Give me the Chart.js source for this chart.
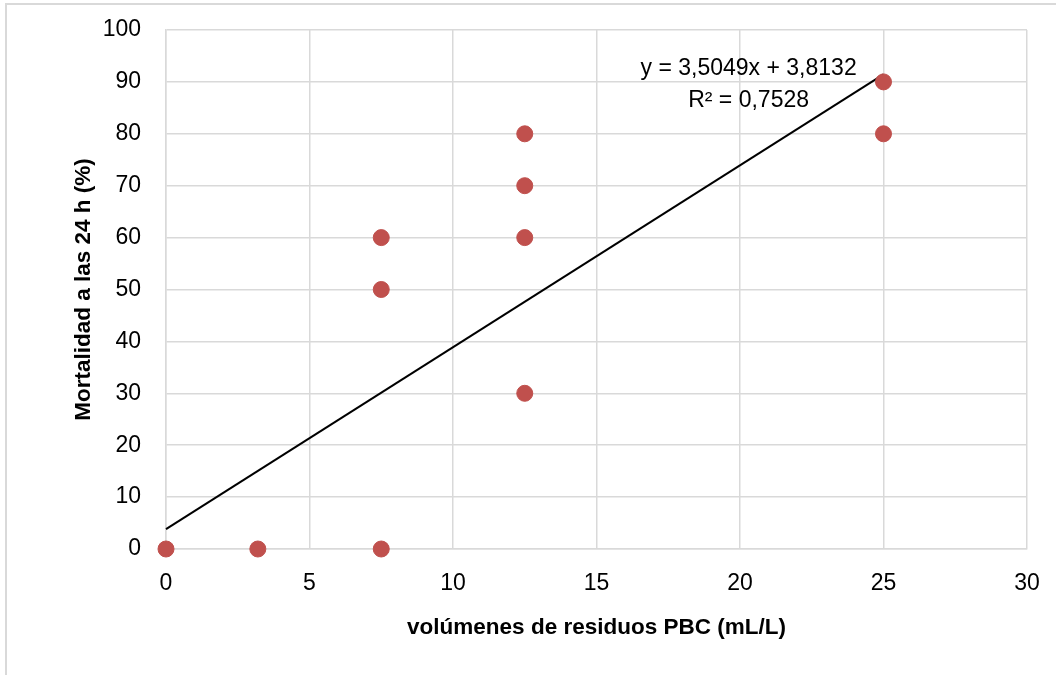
<!DOCTYPE html>
<html>
<head>
<meta charset="utf-8">
<script src="https://cdn.jsdelivr.net/npm/chart.js@4.4.0/dist/chart.umd.min.js"></script>
<style>
html,body{margin:0;padding:0;background:#fff;}
#wrap{position:absolute;left:0;top:0;width:1056px;height:675px;}
</style>
</head>
<body>
<div id="wrap"><canvas id="c" width="1056" height="675"></canvas></div>
<script>
// Data
const volumes   = [0, 3.2, 7.5, 7.5, 7.5, 12.5, 12.5, 12.5, 12.5, 25, 25];
const mortality = [0, 0,   0,   50,  60,  30,   60,   70,   80,   80, 90];
const trendX = [0, 25];
const trendY = [3.8132, 91.4357];
const xTicks = [0, 5, 10, 15, 20, 25, 30];
const yTicks = [0, 10, 20, 30, 40, 50, 60, 70, 80, 90, 100];
const equationLines = ['y = 3,5049x + 3,8132', 'R² = 0,7528'];
const xTitle = 'volúmenes de residuos PBC (mL/L)';
const yTitle = 'Mortalidad a las 24 h (%)';

const FONT = '"Liberation Sans", Arial, sans-serif';

const frame = {
  id: 'frame',
  beforeDraw(chart) {
    const ctx = chart.ctx;
    ctx.save();
    ctx.fillStyle = '#fff';
    ctx.fillRect(0, 0, chart.width, chart.height);
    ctx.strokeStyle = '#d9d9d9';
    ctx.lineWidth = 2;
    ctx.strokeRect(6, 4, chart.width + 20, chart.height + 20);
    ctx.restore();
  }
};

const eqLabel = {
  id: 'eqLabel',
  afterDatasetsDraw(chart) {
    const ctx = chart.ctx;
    const xs = chart.scales.x, ys = chart.scales.y;
    ctx.save();
    ctx.font = '23px ' + FONT;
    ctx.fillStyle = '#000';
    ctx.textAlign = 'center';
    ctx.textBaseline = 'middle';
    const cx = xs.getPixelForValue(20.3);
    ctx.fillText(equationLines[0], cx, ys.getPixelForValue(92.6));
    ctx.fillText(equationLines[1], cx, ys.getPixelForValue(86.3));
    ctx.restore();
  }
};

new Chart(document.getElementById('c'), {
  data: {
    datasets: [
      {
        type: 'scatter',
        data: volumes.map((v, i) => ({x: v, y: mortality[i]})),
        backgroundColor: '#C0504D',
        borderColor: '#C0504D',
        pointRadius: 8,
        pointHoverRadius: 8,
        clip: false,
        order: 1
      },
      {
        type: 'line',
        data: trendX.map((v, i) => ({x: v, y: trendY[i]})),
        borderColor: '#000',
        borderWidth: 2,
        pointRadius: 0,
        fill: false,
        clip: false,
        order: 2
      }
    ]
  },
  options: {
    responsive: false,
    animation: false,
    events: [],
    layout: {padding: {left: 0, top: 30, right: 29, bottom: 0}},
    plugins: {legend: {display: false}, tooltip: {enabled: false}},
    scales: {
      x: {
        type: 'linear',
        min: 0, max: 30,
        afterBuildTicks(s) { s.ticks = xTicks.map(v => ({value: v})); },
        afterFit(s) { s.height = 126; s.paddingLeft = 0; s.paddingRight = 0; },
        grid: {color: '#d9d9d9', lineWidth: 1.5, drawTicks: false},
        border: {display: true, color: '#d9d9d9', width: 1.5},
        ticks: {font: {family: FONT, size: 23}, color: '#000', padding: 21, maxRotation: 0},
        title: {display: true, text: xTitle, color: '#000',
                font: {family: FONT, size: 22.5, weight: 'bold'},
                padding: {top: 0, bottom: 34}}
      },
      y: {
        type: 'linear',
        min: 0, max: 100,
        afterBuildTicks(s) { s.ticks = yTicks.map(v => ({value: v})); },
        afterFit(s) { s.width = 166; s.paddingTop = 0; s.paddingBottom = 0; },
        grid: {color: '#d9d9d9', lineWidth: 1.5, drawTicks: false},
        border: {display: true, color: '#d9d9d9', width: 1.5},
        ticks: {font: {family: FONT, size: 23}, color: '#000', padding: 25},
        title: {display: true, text: yTitle, color: '#000',
                font: {family: FONT, size: 22.5, weight: 'bold'},
                padding: {top: 70, bottom: 0}}
      }
    }
  },
  plugins: [frame, eqLabel]
});
</script>
</body>
</html>
